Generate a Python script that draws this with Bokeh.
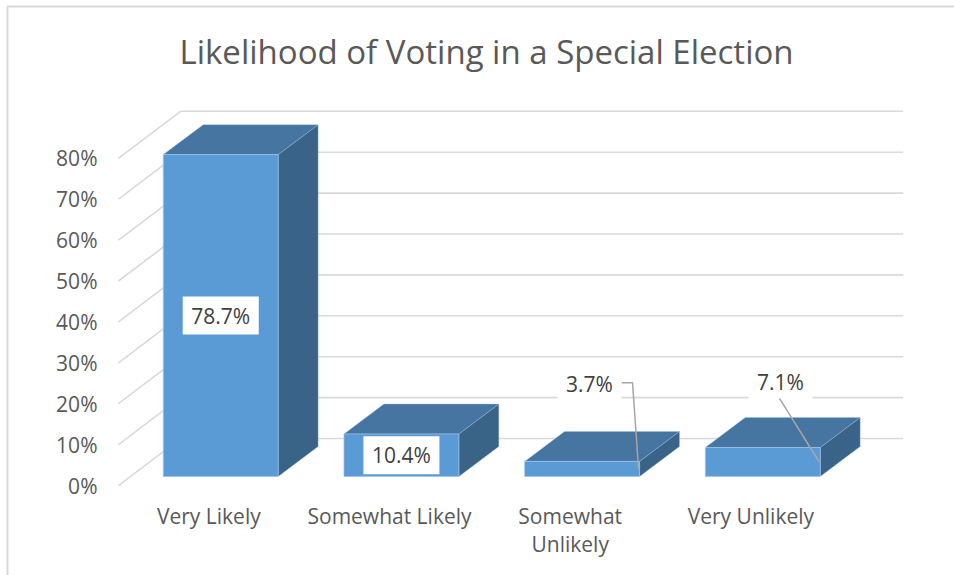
from bokeh.plotting import figure
from bokeh.models import Range1d
from bokeh.core.properties import value
from bokeh.embed import file_html
from bokeh.resources import INLINE

# ---------------- data ----------------
categories = ["Very Likely", "Somewhat Likely", "Somewhat\nUnlikely", "Very Unlikely"]
values = [78.7, 10.4, 3.7, 7.1]
value_labels = ["78.7%", "10.4%", "3.7%", "7.1%"]
ticks = [0, 10, 20, 30, 40, 50, 60, 70, 80]
tick_labels = ["0%", "10%", "20%", "30%", "40%", "50%", "60%", "70%", "80%"]
title_text = "Likelihood of Voting in a Special Election"

# ---------------- layout / style ----------------
W, H = 954, 575
XMIN, XMAX = -0.653, 4.627
YMIN, YMAX = -22.0, 118.58
PX = (XMAX - XMIN) / W   # data units per screen px (x)
PY = (YMAX - YMIN) / H   # data units per screen px (y)

def sx(px):
    return XMIN + px * PX

def sy(py):
    return YMAX - py * PY

WALL_DX, WALL_DY = 0.343, 11.49     # full depth of the 3D box
FDX, FDY = 0.066, 2.2               # bar front face offset into depth
BDX, BDY = 0.221, 7.33              # bar depth
BW = 0.636                          # bar width

FRONT = "#5B9BD5"
TOP = "#4675A1"
SIDE = "#3A6388"
EDGE = "#9DC3E6"
GRID = "#D9D9D9"
TXT = "#595959"
LBL = "#404040"
FONT = value("Open Sans")

p = figure(width=W, height=H, x_range=Range1d(XMIN, XMAX), y_range=Range1d(YMIN, YMAX),
           output_backend="svg", toolbar_location=None, min_border=0,
           x_axis_location=None, y_axis_location=None)
p.grid.visible = False
p.outline_line_color = None
p.background_fill_color = "white"
p.border_fill_color = "white"

# chart area border
p.line([sx(7), sx(7), sx(W + 10)], [sy(H + 10), sy(6), sy(6)], line_color=GRID, line_width=2)

# walls gridlines: side wall diagonals and back wall horizontals
ncat = len(categories)
diag_xs = [[0, WALL_DX] for t in ticks]
diag_ys = [[t, t + WALL_DY] for t in ticks]
back_xs = [[WALL_DX, ncat + WALL_DX] for t in ticks]
back_ys = [[t + WALL_DY, t + WALL_DY] for t in ticks]
p.multi_line(diag_xs + back_xs, diag_ys + back_ys, line_color=GRID, line_width=1.6)

# y tick labels
p.text(x=[0] * len(ticks), y=ticks, text=tick_labels, text_align="right", text_baseline="middle",
       x_offset=-21, text_font=FONT, text_font_size="21px", text_color=TXT)

# category labels
p.text(x=[i + 0.5 for i in range(ncat)], y=[sy(501) - sy(485)] * ncat, text=categories,
       text_align="center", text_baseline="top", text_line_height=1.0,
       text_font=FONT, text_font_size="21px", text_color=TXT)

# bars
face_x0, face_x1 = [], []
for i, v in enumerate(values):
    x0 = i + 0.5 - BW / 2 + FDX
    x1 = x0 + BW
    y0 = FDY
    y1 = v + FDY
    face_x0.append(x0)
    face_x1.append(x1)
    side_x = [x1, x1 + BDX, x1 + BDX, x1]
    side_y = [y0, y0 + BDY, y1 + BDY, y1]
    top_x = [x0, x1, x1 + BDX, x0 + BDX]
    top_y = [y1, y1, y1 + BDY, y1 + BDY]
    p.patch(side_x, side_y, fill_color=SIDE, line_color=EDGE, line_alpha=0.35, line_width=1)
    p.patch(top_x, top_y, fill_color=TOP, line_color=EDGE, line_alpha=0.35, line_width=1)
    p.quad(left=x0, right=x1, bottom=y0, top=y1, fill_color=FRONT, line_color=EDGE,
           line_alpha=0.7, line_width=1)

# data labels: first two inside the bars, last two above with leader lines
BOX_W = [76, 76, 64, 64]
BOX_H = 38
OUTSIDE = {2: (0.041, 24.9), 3: (0.098, 25.2)}
lab_x, lab_y = [], []
for i, v in enumerate(values):
    cx = (face_x0[i] + face_x1[i]) / 2
    if i in OUTSIDE:
        lab_x.append(cx + OUTSIDE[i][0])
        lab_y.append(OUTSIDE[i][1])
    else:
        lab_x.append(cx)
        lab_y.append(FDY + v / 2)

# leader lines
lead_xs, lead_ys = [], []
# 3.7%: horizontal from box right edge, then down to the right edge of the front face
i = 2
lead_xs.append([lab_x[i] + 32 * PX, lab_x[i] + 43 * PX, face_x1[i] - 1 * PX])
lead_ys.append([lab_y[i] + 1 * PY, lab_y[i] + 1 * PY, FDY + values[i] / 2])
# 7.1%: from box bottom to the right edge of the front face
i = 3
lead_xs.append([lab_x[i] - 1 * PX, face_x1[i] - 1 * PX])
lead_ys.append([lab_y[i] - 16 * PY, FDY + values[i] / 2])

p.rect(x=lab_x, y=lab_y, width=BOX_W, height=[BOX_H] * ncat, width_units="screen",
       height_units="screen", fill_color="white", line_color=None)
p.multi_line(lead_xs, lead_ys, line_color="#A6A6A6", line_width=1.5)
p.text(x=lab_x, y=lab_y, text=value_labels, text_align="center", text_baseline="middle",
       text_font=FONT, text_font_size="21px", text_color=LBL)

# title
p.text(x=[sx(486)], y=[sy(51)], text=[title_text], text_align="center", text_baseline="middle",
       text_font=FONT, text_font_size="33px", text_color=TXT)

open("out.html", "w").write(file_html(p, INLINE))
